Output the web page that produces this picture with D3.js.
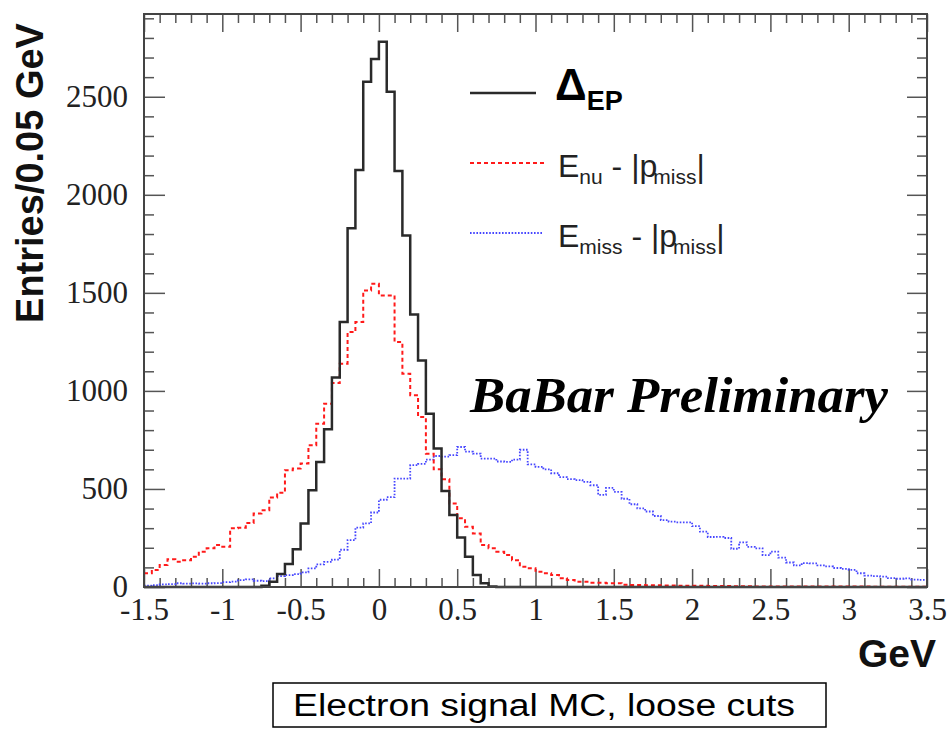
<!DOCTYPE html>
<html>
<head>
<meta charset="utf-8">
<script src="https://cdn.jsdelivr.net/npm/d3@7"></script>
<style>
  body { margin: 0; background: #fff; }
  svg { display: block; }
  .tick text { font-family: "Liberation Serif", "DejaVu Serif", serif; font-size: 31px; fill: #222; }
  .tick line { stroke: #555; stroke-width: 1.5; }
  text { white-space: pre; }
</style>
</head>
<body>
<svg id="chart"></svg>
<script>
// Histogram bins: 0.05 GeV wide, starting at -1.5 GeV (100 bins)
var binLo = -1.5,
    binWidth = 0.05;

// Delta_EP (black, solid)
var deltaEP = [
    0, 0, 0, 0, 0, 0, 0, 0, 0, 0,
    0, 0, 0, 0, 0, 7, 27, 66, 117, 192,
    324, 494, 638, 804, 1068, 1351, 1830, 2127, 2576, 2692,
    2780, 2525, 2122, 1792, 1390, 1155, 884, 706, 489, 367,
    253, 154, 61, 19, 3, 0, 0, 0, 0, 0,
    0, 0, 0, 0, 0, 0, 0, 0, 0, 0,
    0, 0, 0, 0, 0, 0, 0, 0, 0, 0,
    0, 0, 0, 0, 0, 0, 0, 0, 0, 0,
    0, 0, 0, 0, 0, 0, 0, 0, 0, 0,
    0, 0, 0, 0, 0, 0, 0, 0, 0, 0
];

// E_nu - |p_miss| (red, dashed)
var enuPmiss = [
    70, 87, 112, 141, 129, 137, 154, 180, 197, 214,
    205, 299, 302, 327, 375, 392, 457, 480, 596, 604,
    630, 723, 833, 935, 1040, 1139, 1300, 1351, 1512, 1546,
    1487, 1487, 1249, 1088, 978, 867, 680, 600, 550, 426,
    350, 307, 273, 214, 197, 180, 163, 137, 103, 95,
    78, 70, 61, 44, 36, 27, 27, 22, 22, 19,
    19, 12, 10, 10, 9, 9, 8, 8, 7, 6,
    6, 6, 5, 5, 5, 4, 4, 4, 3, 3,
    3, 3, 3, 3, 2, 2, 2, 2, 2, 2,
    2, 2, 2, 1, 1, 1, 1, 1, 1, 1
];

// E_miss - |p_miss| (blue, dotted)
var emissPmiss = [
    7, 10, 13, 15, 19, 17, 18, 17, 19, 20,
    25, 27, 35, 39, 32, 30, 44, 55, 61, 66,
    75, 95, 115, 128, 140, 190, 239, 303, 324, 380,
    445, 458, 553, 553, 621, 628, 650, 668, 665, 672,
    714, 690, 680, 655, 655, 640, 638, 650, 700, 625,
    613, 600, 580, 560, 550, 545, 536, 519, 470, 505,
    485, 450, 422, 401, 385, 362, 341, 333, 330, 330,
    310, 282, 255, 256, 250, 195, 228, 205, 197, 163,
    180, 150, 125, 110, 122, 120, 110, 105, 97, 92,
    87, 70, 58, 55, 53, 45, 42, 44, 38, 36
];

var xTickValues = [-1.5, -1, -0.5, 0, 0.5, 1, 1.5, 2, 2.5, 3, 3.5];
var yTickValues = [0, 500, 1000, 1500, 2000, 2500];

(function () {
    var W = 948, H = 729;
    var plotL = 144, plotR = 927, plotT = 14, plotB = 587;

    var svg = d3.select("#chart").attr("width", W).attr("height", H);
    svg.append("rect").attr("width", W).attr("height", H).attr("fill", "#fff");

    var x = d3.scaleLinear().domain([-1.5, 3.5]).range([plotL, plotR]);
    var y = d3.scaleLinear().domain([0, 2922]).range([plotB, plotT]);

    // minor ticks: 0.1 GeV and 100 entries
    var xMinor = d3.range(-15, 36).filter(function (k) { return k % 5 !== 0; }).map(function (k) { return k / 10; });
    var yMinor = d3.range(100, 2922, 100).filter(function (v) { return v % 500 !== 0; });

    function noDomain(g) { g.select(".domain").remove(); }

    // bottom axis
    svg.append("g").attr("transform", "translate(0," + plotB + ")")
        .call(d3.axisBottom(x).tickValues(xMinor).tickSize(-9).tickFormat(""))
        .call(noDomain);
    svg.append("g").attr("transform", "translate(0," + plotB + ")")
        .call(d3.axisBottom(x).tickValues(xTickValues).tickSize(-18).tickPadding(11)
            .tickFormat(function (d) { return String(d); }))
        .call(noDomain);

    // top axis
    svg.append("g").attr("transform", "translate(0," + plotT + ")")
        .call(d3.axisTop(x).tickValues(xMinor).tickSize(-9).tickFormat(""))
        .call(noDomain);
    svg.append("g").attr("transform", "translate(0," + plotT + ")")
        .call(d3.axisTop(x).tickValues(xTickValues).tickSize(-18).tickFormat(""))
        .call(noDomain);

    // left axis
    svg.append("g").attr("transform", "translate(" + plotL + ",0)")
        .call(d3.axisLeft(y).tickValues(yMinor).tickSize(-10).tickFormat(""))
        .call(noDomain);
    svg.append("g").attr("transform", "translate(" + plotL + ",0)")
        .call(d3.axisLeft(y).tickValues(yTickValues).tickSize(-21).tickPadding(16)
            .tickFormat(function (d) { return String(d); }))
        .call(noDomain);

    // right axis
    svg.append("g").attr("transform", "translate(" + plotR + ",0)")
        .call(d3.axisRight(y).tickValues(yMinor).tickSize(-10).tickFormat(""))
        .call(noDomain);
    svg.append("g").attr("transform", "translate(" + plotR + ",0)")
        .call(d3.axisRight(y).tickValues(yTickValues).tickSize(-20).tickFormat(""))
        .call(noDomain);

    // histograms as step outlines
    var stepLine = d3.line()
        .x(function (d) { return x(d[0]); })
        .y(function (d) { return y(d[1]); })
        .curve(d3.curveStepAfter);

    function histPoints(values) {
        var pts = values.map(function (v, i) { return [binLo + i * binWidth, v]; });
        pts.push([binLo + values.length * binWidth, values[values.length - 1]]);
        return pts;
    }

    var series = [
        { values: emissPmiss, color: "#4646ff", width: 1.8, dash: "1.6,1.6", ly: 233, lx2: 543 },
        { values: enuPmiss, color: "#ff1a1a", width: 2, dash: "4,3", ly: 163, lx2: 545 },
        { values: deltaEP, color: "#2a2a2a", width: 2.5, dash: null, ly: 93, lx2: 536 }
    ];

    series.forEach(function (s) {
        svg.append("path")
            .attr("d", stepLine(histPoints(s.values)))
            .attr("fill", "none")
            .attr("stroke", s.color)
            .attr("stroke-width", s.width)
            .attr("stroke-dasharray", s.dash);
        // legend sample line
        svg.append("line")
            .attr("x1", 470).attr("x2", s.lx2)
            .attr("y1", s.ly).attr("y2", s.ly)
            .attr("stroke", s.color)
            .attr("stroke-width", s.width)
            .attr("stroke-dasharray", s.dash);
    });

    // frame
    svg.append("rect")
        .attr("x", plotL).attr("y", plotT)
        .attr("width", plotR - plotL).attr("height", plotB - plotT)
        .attr("fill", "none").attr("stroke", "#444").attr("stroke-width", 2);

    // legend texts
    var sans = "'Liberation Sans', Arial, sans-serif";

    var t1 = svg.append("text").attr("x", 555).attr("y", 100)
        .style("font-family", sans).style("font-weight", "bold").attr("fill", "#000");
    t1.append("tspan").style("font-size", "44px").text("Δ");
    t1.append("tspan").style("font-size", "27px").attr("dy", 10).text("EP");

    function legendText(yPos, sub1) {
        var t = svg.append("text").attr("x", 558).attr("y", yPos)
            .style("font-family", sans).style("font-size", "32px").attr("fill", "#222");
        t.append("tspan").text("E");
        t.append("tspan").style("font-size", "21px").attr("dy", 7).text(sub1);
        t.append("tspan").attr("dy", -7).text(" - |p");
        t.append("tspan").style("font-size", "21px").attr("dy", 7).attr("dx", -4).text("miss");
        t.append("tspan").attr("dy", -7).text("|");
    }
    legendText(177, "nu");
    legendText(247, "miss");

    // watermark
    svg.append("text")
        .attr("x", 470).attr("y", 412)
        .attr("textLength", 418).attr("lengthAdjust", "spacingAndGlyphs")
        .style("font-family", "'Liberation Serif', 'Times New Roman', serif")
        .style("font-weight", "bold").style("font-style", "italic")
        .style("font-size", "51px")
        .text("BaBar Preliminary");

    // axis titles
    svg.append("text")
        .attr("transform", "translate(43,173) rotate(-90)")
        .attr("text-anchor", "middle")
        .style("font-family", sans).style("font-weight", "bold").style("font-size", "38px")
        .attr("fill", "#111")
        .text("Entries/0.05 GeV");

    svg.append("text")
        .attr("x", 936).attr("y", 667)
        .attr("text-anchor", "end")
        .style("font-family", sans).style("font-weight", "bold").style("font-size", "39px")
        .attr("fill", "#111")
        .text("GeV");

    // caption box
    svg.append("rect")
        .attr("x", 273).attr("y", 683).attr("width", 553).attr("height", 44)
        .attr("fill", "#fff").attr("stroke", "#000").attr("stroke-width", 1.5);
    svg.append("text")
        .attr("x", 293).attr("y", 716)
        .attr("textLength", 502).attr("lengthAdjust", "spacingAndGlyphs")
        .style("font-family", sans).style("font-size", "31px")
        .text("Electron signal MC, loose cuts");
})();
</script>
</body>
</html>
